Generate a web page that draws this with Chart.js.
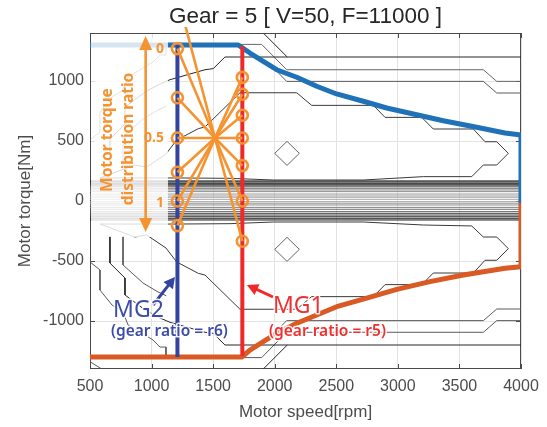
<!DOCTYPE html>
<html><head><meta charset="utf-8">
<script src="https://cdn.jsdelivr.net/npm/chart.js@4.4.1/dist/chart.umd.min.js"></script>
<style>html,body{margin:0;padding:0;background:#fff}canvas{display:block}</style>
</head><body>
<canvas id="c" width="547" height="427"></canvas>
<script>
// ---------- data ----------
const xTicks = [500,1000,1500,2000,2500,3000,3500,4000];
const yTicks = [-1000,-500,0,500,1000];

const maxTorqueRpm = [500,1704,1799,1907,2016,2179,2341,2503,2719,2909,3153,3369,3640,3870,4000,4000];
const maxTorqueNm  = [1300,1300,1233,1164,1094,1031,956,892,831,775,719,669,614,567,550,0];
const minTorqueRpm = [4000,4000,3870,3532,3261,2991,2719,2503,2341,2179,2016,1907,1799,1732,500];
const minTorqueNm  = [0,-548,-561,-617,-672,-736,-817,-881,-950,-1019,-1103,-1172,-1242,-1300,-1300];

const mg2Rpm = 1210, mg2SpanNm = [-1300,1300];
const mg1Rpm = 1737, mg1SpanNm = [-1290,1290];
const mg2RatioNm = [1270,860,525,240,0,-205];
const mg1RatioNm = [1030,890,715,525,295,0,-335];
const hubPoint = [1515,525];
const outerSpokeEnd = [1210,1710];

const contourU900 = [[581,192],[865,300],[960,283],[1117,392],[1204,508],[1380,603],[1434,617],[1718,902],[2179,902],[2300,797],[2801,797],[2896,697],[3194,697],[3288,600],[3613,600],[3708,494],[3803,494],[3897,397],[3803,300],[3694,300],[3600,203],[3207,203],[2719,175],[1989,175],[1637,189],[1204,192],[581,192]];
const contourL900 = [[581,-192],[865,-300],[960,-283],[1117,-392],[1204,-508],[1380,-603],[1434,-617],[1718,-902],[2179,-902],[2300,-797],[2801,-797],[2896,-697],[3194,-697],[3288,-600],[3613,-600],[3708,-494],[3803,-494],[3897,-397],[3803,-300],[3694,-300],[3600,-208],[3207,-200],[2719,-175],[1989,-175],[1637,-189],[1204,-192],[581,-192]];
const contourU1200 = [[662,292],[662,517],[784,642],[784,783],[947,908],[1068,975],[1150,1011],[1434,1094],[1501,1103],[1596,1200],[4000,1200]];
const contourU1200b = [[1907,1400],[2102,1200]];
const contourU1300 = [[500,508],[581,575],[581,742],[679,867],[768,925],[809,1033],[906,1092],[1012,1158],[1068,1217],[1117,1217],[1117,1305],[1894,1305],[2097,1094],[3694,1094],[3803,997],[4000,997]];
const contourU1000 = [[1989,1110],[2097,997],[3694,997],[3803,900],[4000,900]];
const contourUD = [[768,292],[768,533],[930,683],[1052,758],[1120,790]];
const contourL1200 = [[662,-292],[662,-517],[784,-642],[784,-783],[947,-908],[1068,-975],[1150,-1011],[1434,-1094],[1501,-1103],[1596,-1200],[4000,-1200]];
const contourL1200b = [[1907,-1400],[2102,-1200]];
const contourL1300 = [[500,-508],[581,-575],[581,-742],[679,-867],[768,-925],[809,-1033],[906,-1092],[1012,-1158],[1068,-1217],[1117,-1217],[1117,-1305],[1894,-1305],[2097,-1094],[3694,-1094],[3803,-997],[4000,-997]];
const contourL1000 = [[1989,-1110],[2097,-997],[3694,-997],[3803,-900],[4000,-900]];
const contourLD = [[768,-292],[768,-533],[930,-683],[1052,-758],[1120,-790]];
const contourLCorner = [[500,-1339],[595,-1400]];
const diamondUpper = [[2000,397],[2100,497],[2200,397],[2100,297],[2000,397]];
const diamondLower = [[2000,-403],[2100,-303],[2200,-403],[2100,-503],[2000,-403]];

const bandNm    = [167,158,147,139,131,119,106,92,78,58,42,31,14,-6,-19,-33,-53,-69,-89,-103,-117,-131,-144,-158];
const bandShade = ['#111','#222','#333','#3d3d3d','#4d4d4d','#5e5e5e','#6e6e6e','#808080','#8c8c8c','#999','#a3a3a3','#a8a8a8','#a8a8a8','#a3a3a3','#999','#8c8c8c','#808080','#6e6e6e','#5e5e5e','#4d4d4d','#3d3d3d','#333','#222','#111'];
const xRange = [500,4000], yRange = [-1400,1400];

// ---------- build ----------
const ORANGE = '#f59331';
const pts = a => a.map(p => ({x:p[0], y:p[1]}));
const zip = (xs, ys) => xs.map((x,i) => ({x, y:ys[i]}));
function line(data, color, width, order, extra) {
  return Object.assign({data, borderColor:color, backgroundColor:color, borderWidth:width, showLine:true,
    pointRadius:0, pointHoverRadius:0, fill:false, tension:0, order, borderCapStyle:'butt', borderJoinStyle:'round'}, extra||{});
}
const datasets = [];
bandNm.forEach((v,i) => datasets.push(line([{x:xRange[0],y:v},{x:xRange[1],y:v}], bandShade[i], 1, 20)));
[[contourU900,'#3a3a3a'],[contourL900,'#3a3a3a'],[contourU1200,'#262626'],[contourU1200b,'#262626'],[contourU1300,'#666'],
 [contourU1000,'#5a5a5a'],[contourUD,'#5a5a5a'],[contourL1200,'#262626'],[contourL1200b,'#262626'],[contourL1300,'#5a5a5a'],
 [contourL1000,'#5a5a5a'],[contourLD,'#5a5a5a'],[contourLCorner,'#5a5a5a'],[diamondUpper,'#666'],[diamondLower,'#666']]
 .forEach(c => datasets.push(line(pts(c[0]), c[1], 1, 15)));
datasets.push(line(zip(maxTorqueRpm,maxTorqueNm), '#1f72b8', 5, 6));
datasets.push(line(zip(minTorqueRpm,minTorqueNm), '#d95a24', 5, 6));
datasets.push(line(mg2SpanNm.map(v=>({x:mg2Rpm,y:v})), '#3343a0', 4, 5));
datasets.push(line(mg1SpanNm.map(v=>({x:mg1Rpm,y:v})), '#f0282a', 4, 5));
const hub = {x:hubPoint[0], y:hubPoint[1]};
mg2RatioNm.forEach(v => datasets.push(line([hub,{x:mg2Rpm,y:v}], ORANGE, 2.6, 4)));
mg1RatioNm.forEach(v => datasets.push(line([hub,{x:mg1Rpm,y:v}], ORANGE, 2.6, 4)));
datasets.push(line([hub,{x:outerSpokeEnd[0],y:outerSpokeEnd[1]}], ORANGE, 2.6, 4, {clip:{left:0,top:6,right:0,bottom:0}}));
datasets.push({data: mg2RatioNm.map(v=>({x:mg2Rpm,y:v})).concat(mg1RatioNm.map(v=>({x:mg1Rpm,y:v}))),
  showLine:false, pointRadius:5.5, pointHoverRadius:5.5, pointBorderWidth:2.6, pointBorderColor:ORANGE,
  pointBackgroundColor:'rgba(255,255,255,0)', order:2});

// ---------- plugins ----------
const frame = {
  id:'frame',
  beforeDatasetsDraw(chart){
    const {ctx, chartArea:a, scales:{x,y}} = chart;
    ctx.save();
    ctx.strokeStyle = '#4a4a4a'; ctx.lineWidth = 1;
    ctx.strokeRect(a.left+0.5, a.top+0.5, a.right-a.left-1, a.bottom-a.top-1);
    ctx.beginPath();
    xTicks.forEach(v => { const p = Math.round(x.getPixelForValue(v))+0.5;
      ctx.moveTo(p,a.top); ctx.lineTo(p,a.top+5); ctx.moveTo(p,a.bottom); ctx.lineTo(p,a.bottom-5); });
    yTicks.forEach(v => { const p = Math.round(y.getPixelForValue(v))+0.5;
      ctx.moveTo(a.left,p); ctx.lineTo(a.left+5,p); ctx.moveTo(a.right,p); ctx.lineTo(a.right-5,p); });
    ctx.stroke();
    ctx.restore();
  }
};
function arrowHead(ctx, x1,y1,x2,y2, len, half){
  const ang = Math.atan2(y2-y1, x2-x1);
  ctx.beginPath();
  ctx.moveTo(x2,y2);
  ctx.lineTo(x2 - len*Math.cos(ang) + half*Math.sin(ang), y2 - len*Math.sin(ang) - half*Math.cos(ang));
  ctx.lineTo(x2 - len*Math.cos(ang) - half*Math.sin(ang), y2 - len*Math.sin(ang) + half*Math.cos(ang));
  ctx.closePath(); ctx.fill();
}
function arrow(ctx, p1, p2, color, w, len, half, both){
  ctx.strokeStyle = color; ctx.fillStyle = color; ctx.lineWidth = w;
  const ang = Math.atan2(p2[1]-p1[1], p2[0]-p1[0]);
  const s = both ? [p1[0]+len*0.8*Math.cos(ang), p1[1]+len*0.8*Math.sin(ang)] : p1;
  const e = [p2[0]-len*0.8*Math.cos(ang), p2[1]-len*0.8*Math.sin(ang)];
  ctx.beginPath(); ctx.moveTo(s[0],s[1]); ctx.lineTo(e[0],e[1]); ctx.stroke();
  arrowHead(ctx, p1[0],p1[1],p2[0],p2[1], len, half);
  if (both) arrowHead(ctx, p2[0],p2[1],p1[0],p1[1], len, half);
}
function haloText(ctx, txt, x, y, color, font, align){
  ctx.font = font; ctx.textAlign = align||'left'; ctx.textBaseline = 'middle';
  ctx.lineJoin = 'round'; ctx.strokeStyle = 'rgba(255,255,255,0.9)'; ctx.lineWidth = 3;
  ctx.strokeText(txt, x, y); ctx.fillStyle = color; ctx.fillText(txt, x, y);
}
const annot = {
  id:'annot',
  afterDatasetsDraw(chart){
    const {ctx, scales:{x,y}} = chart;
    const P = (u,v) => [x.getPixelForValue(u), y.getPixelForValue(v)];
    ctx.save();
    const b1 = P(500,1400), b2 = P(1133,-292);
    ctx.fillStyle = 'rgba(255,255,255,0.82)';
    ctx.fillRect(b1[0]+1, b1[1]+1, b2[0]-b1[0]-1, b2[1]-b1[1]);
    arrow(ctx, P(952,-258), P(952,1375), ORANGE, 2.6, 14, 6.5, true);
    ctx.fillStyle = ORANGE; ctx.font = 'bold 15.5px "Noto Sans"'; ctx.textAlign='center'; ctx.textBaseline='middle';
    [['Motor torque',646,508],['distribution ratio',817,517]].forEach(t => {
      const p = P(t[1],t[2]); ctx.save(); ctx.translate(p[0],p[1]); ctx.rotate(-Math.PI/2); ctx.fillText(t[0],0,0); ctx.restore();
    });
    ctx.font = 'bold 14px "Noto Sans"'; ctx.textAlign='right';
    [['0',1270],['0.5',525],['1',-15]].forEach(t => { const p = P(1101,t[1]); ctx.fillText(t[0],p[0],p[1]); });
    arrow(ctx, P(1012,-867), P(1190,-633), '#3343a0', 3, 11, 6, false);
    arrow(ctx, P(1986,-800), P(1775,-700), '#f0282a', 3, 11, 6, false);
    haloText(ctx, 'MG2', ...P(687,-908), '#3d4ca6', '23px "Noto Sans"');
    haloText(ctx, '(gear ratio = r6)', ...P(670,-1089), '#3d4ca6', '600 15.5px "Noto Sans"');
    haloText(ctx, 'MG1', ...P(1986,-875), '#ee3130', '23px "Noto Sans"');
    haloText(ctx, '(gear ratio = r5)', ...P(1954,-1089), '#ee3130', '600 15.5px "Noto Sans"');
    ctx.restore();
  }
};

const FONT = '"Liberation Sans", Arial, sans-serif';
new Chart(document.getElementById('c'), {
  type:'scatter',
  data:{datasets},
  options:{
    responsive:false, animation:false, devicePixelRatio:1,
    events:[],
    layout:{padding:{left:0,right:26,top:0,bottom:0}},
    plugins:{
      legend:{display:false}, tooltip:{enabled:false},
      title:{display:true, fullSize:false, text:'Gear = 5 [ V=50, F=11000 ]', color:'#262626',
        font:{family:FONT, size:22.5, weight:'normal'}, padding:{top:3,bottom:3}}
    },
    scales:{
      x:{type:'linear', min:xRange[0], max:xRange[1],
        afterBuildTicks:s => { s.ticks = xTicks.map(v=>({value:v})); },
        afterFit:s => { s.height = 58; },
        grid:{color:'#e3e3e3', drawTicks:false}, border:{display:false},
        ticks:{padding:8, color:'#4d4d4d', font:{family:FONT, size:16}, maxRotation:0, callback:v => String(v)},
        title:{display:true, text:'Motor speed[rpm]', color:'#4d4d4d',
          font:{family:FONT, size:17}, padding:{top:0,bottom:4}}},
      y:{type:'linear', min:yRange[0], max:yRange[1],
        afterBuildTicks:s => { s.ticks = yTicks.map(v=>({value:v})); },
        afterFit:s => { s.width = 90; },
        grid:{color:'#e3e3e3', drawTicks:false}, border:{display:false},
        ticks:{padding:6, color:'#4d4d4d', font:{family:FONT, size:16}, callback:v => String(v)},
        title:{display:true, text:'Motor torque[Nm]', color:'#4d4d4d',
          font:{family:FONT, size:17}, padding:{top:15,bottom:0}}}
    }
  },
  plugins:[frame, annot]
});
</script>
</body></html>
